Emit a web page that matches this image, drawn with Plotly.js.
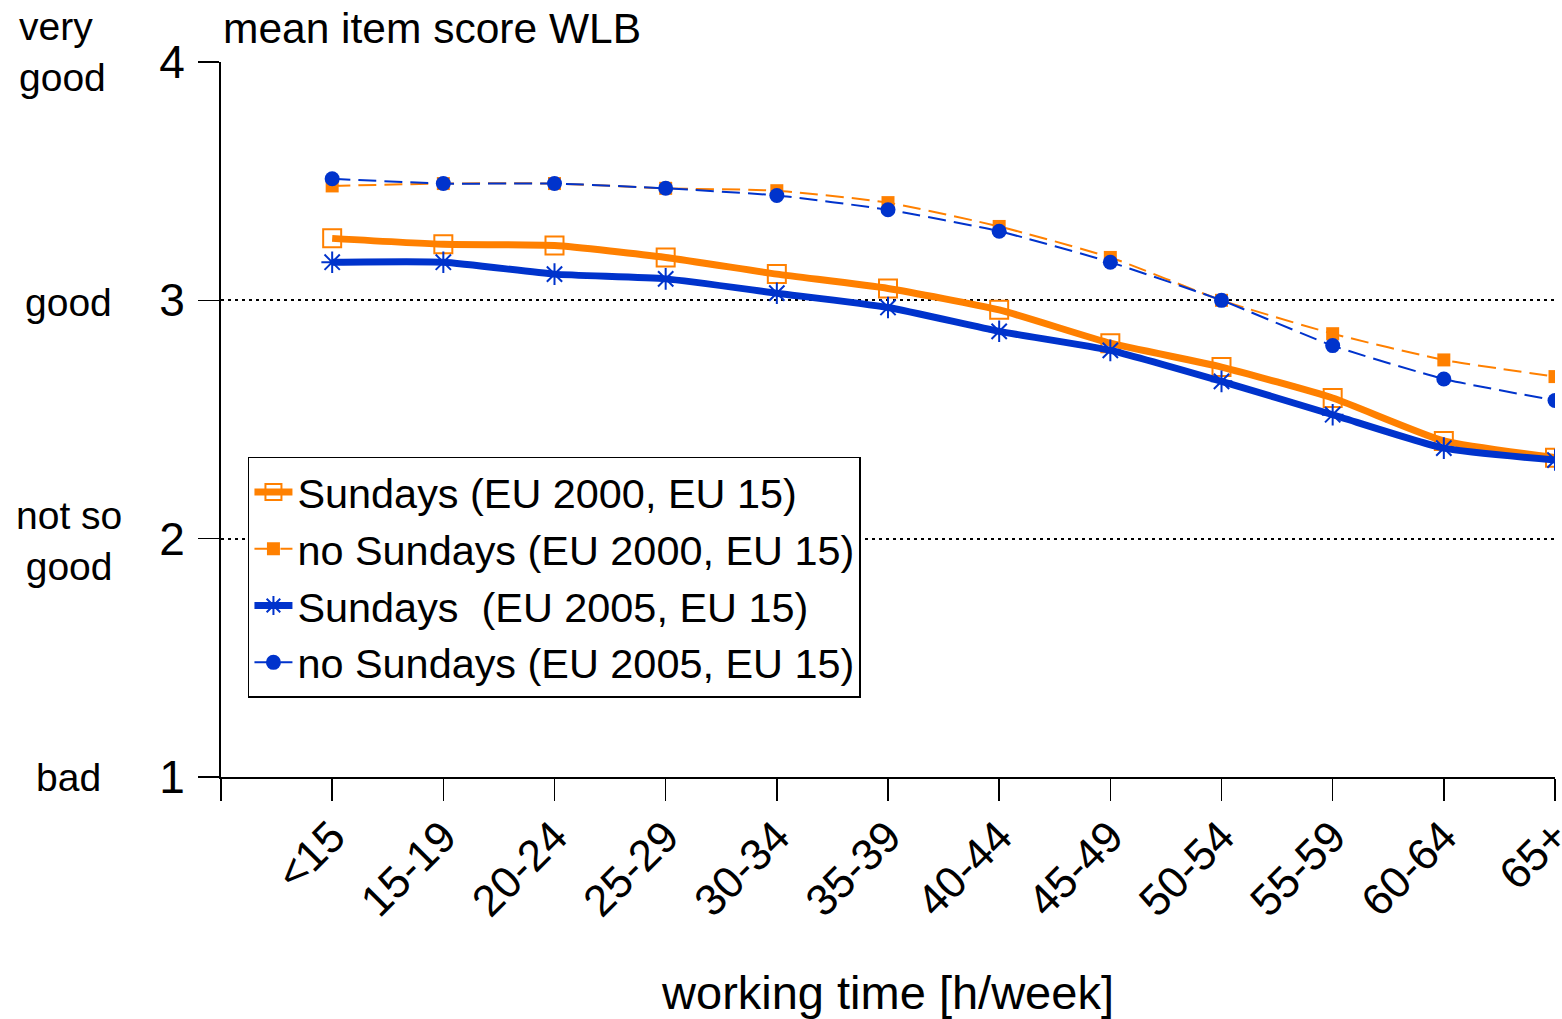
<!DOCTYPE html>
<html>
<head>
<meta charset="utf-8">
<script src="https://cdn.plot.ly/plotly-3.0.1.min.js"></script>
<style>html,body{margin:0;padding:0;background:#fff;}#chart{width:1562px;height:1019px;}</style>
</head>
<body>
<div id="chart"></div>
<script>
const categories = ['<15','15-19','20-24','25-29','30-34','35-39','40-44','45-49','50-54','55-59','60-64','65+'];
const sundays2000   = [3.26,3.235,3.23,3.18,3.11,3.05,2.96,2.82,2.72,2.59,2.41,2.34];
const noSundays2000 = [3.48,3.49,3.49,3.47,3.46,3.41,3.31,3.18,3.00,2.86,2.75,2.68];
const sundays2005   = [3.16,3.16,3.11,3.09,3.03,2.97,2.87,2.79,2.66,2.52,2.38,2.33];
const noSundays2005 = [3.51,3.49,3.49,3.47,3.44,3.38,3.29,3.16,3.00,2.81,2.67,2.58];
const yTicks = [1,2,3,4];
const yLabels = ['bad','not so<br>good','good','very<br>good'];

const ORANGE = 'rgb(255,128,0)';
const BLUE = 'rgb(0,51,204)';
const FONT = 'Liberation Sans, Arial, sans-serif';

const traces = [
  {x: categories, y: sundays2000, name: 'Sundays (EU 2000, EU 15)', mode: 'lines+markers',
   line: {color: ORANGE, width: 7, shape: 'spline', smoothing: 0.5},
   marker: {symbol: 'square-open', size: 18, color: ORANGE, line: {color: ORANGE, width: 2}}},
  {x: categories, y: noSundays2000, name: 'no Sundays (EU 2000, EU 15)', mode: 'lines+markers',
   line: {color: ORANGE, width: 2, dash: '18px,8px', shape: 'spline', smoothing: 0.5},
   marker: {symbol: 'square', size: 13, color: ORANGE}},
  {x: categories, y: sundays2005, name: 'Sundays\u00a0 (EU 2005, EU 15)', mode: 'lines+markers',
   line: {color: BLUE, width: 7, shape: 'spline', smoothing: 0.5},
   marker: {symbol: 'asterisk-open', size: 18, color: BLUE, line: {color: BLUE, width: 2}}},
  {x: categories, y: noSundays2005, name: 'no Sundays (EU 2005, EU 15)', mode: 'lines+markers',
   line: {color: BLUE, width: 2, dash: '18px,8px', shape: 'spline', smoothing: 0.5},
   marker: {symbol: 'circle', size: 15, color: BLUE}}
];

const tickvalsX = [-1].concat(categories.map((c, i) => i));
const ticktextX = [''].concat(categories);

const annotations = [
  {text: 'mean item score WLB', xref: 'paper', yref: 'paper', x: 0, y: 1, xanchor: 'left', yanchor: 'middle',
   yshift: 34, showarrow: false, font: {family: FONT, size: 42.5, color: '#000'}}
];
const sideX = [-0.114, -0.114, -0.114, -0.153];
const sideAnchor = ['center', 'center', 'center', 'left'];
const sideAlign = ['center', 'center', 'center', 'left'];
const sideShift = [0, -2, -2, 10];
yTicks.forEach((v, i) => {
  annotations.push({text: yLabels[i], xref: 'paper', yref: 'y', x: sideX[i], y: v, xanchor: sideAnchor[i],
    yanchor: 'middle', showarrow: false, align: sideAlign[i], yshift: sideShift[i],
    font: {family: FONT, size: 39, color: '#000'}});
});

const layout = {
  width: 1562, height: 1019,
  margin: {l: 221, r: 7, t: 62, b: 242},
  paper_bgcolor: '#fff', plot_bgcolor: '#fff',
  showlegend: true,
  legend: {x: 0.0202, y: 0.4476, xanchor: 'left', yanchor: 'top', bgcolor: '#fff',
    bordercolor: '#000', borderwidth: 1.5, font: {family: FONT, size: 41.4, color: '#000'},
    itemwidth: 38, tracegroupgap: 0},
  xaxis: {type: 'category', range: [-1, 11], tickmode: 'array', tickvals: tickvalsX, ticktext: ticktextX,
    tickangle: -45, ticks: 'outside', ticklen: 22, tickwidth: 1.5, tickcolor: '#000',
    showline: true, linecolor: '#000', linewidth: 2, showgrid: false, zeroline: false,
    tickfont: {family: FONT, size: 44, color: '#000'}, ticklabelstandoff: -8,
    title: {text: 'working time [h/week]', font: {family: FONT, size: 47, color: '#000'}, standoff: 58}},
  yaxis: {range: [1, 4], tickmode: 'array', tickvals: yTicks, ticks: 'outside', ticklen: 21,
    tickwidth: 1.5, tickcolor: '#000', showline: true, linecolor: '#000', linewidth: 2,
    showgrid: true, gridcolor: '#000', gridwidth: 2, griddash: '3px,4px', zeroline: false,
    tickfont: {family: FONT, size: 46, color: '#000'}, ticklabelstandoff: 4},
  annotations: annotations
};

Plotly.newPlot('chart', traces, layout, {displayModeBar: false, staticPlot: true});
</script>
</body>
</html>
